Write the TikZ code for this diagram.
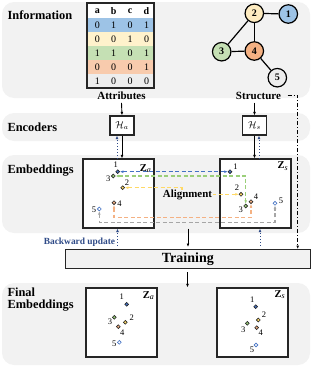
\documentclass[tikz,border=0pt]{standalone}
\usepackage{fontspec}
\setmainfont{Liberation Serif}
\usetikzlibrary{arrows.meta}
\definecolor{panel}{HTML}{F2F2F2}
\definecolor{rowB}{HTML}{9DC3E6}
\definecolor{rowY}{HTML}{FFF2CC}
\definecolor{rowG}{HTML}{C5E0B4}
\definecolor{rowO}{HTML}{F8CBAD}
\definecolor{rowN}{HTML}{EDEDED}
\definecolor{nodeO}{HTML}{F4B183}
\definecolor{nodeY}{HTML}{FDEBC0}
\definecolor{lnB}{HTML}{4472C4}
\definecolor{lnG}{HTML}{9BCF7A}
\definecolor{lnY}{HTML}{FFD966}
\definecolor{lnO}{HTML}{F4B183}
\definecolor{lnN}{HTML}{A6A6A6}
\definecolor{bk}{HTML}{2E4A87}
\definecolor{dk}{HTML}{262626}
\tikzset{
  panelbox/.style={fill=panel, draw=none, rounded corners=12pt},
  sec/.style={font=\fontsize{12.4}{13}\selectfont\bfseries, anchor=west, align=left},
  sub/.style={font=\fontsize{11}{12}\selectfont\bfseries},
  gnode/.style={circle, draw=black, line width=1.2pt, minimum size=18.5pt, inner sep=0pt, font=\fontsize{10}{10}\selectfont\bfseries},
  encbox/.style={draw=dk, line width=1.2pt, fill=white, minimum width=24pt, minimum height=19pt, inner sep=0pt},
  embbox/.style={draw=dk, line width=1.2pt, fill=white, minimum width=71pt, minimum height=69pt, inner sep=0pt},
  pt/.style={circle, draw=dk, line width=0.6pt, minimum size=3.8pt, inner sep=0pt},
  plab/.style={font=\fontsize{8.5}{9}\selectfont, inner sep=0pt},
  zlab/.style={font=\fontsize{10.5}{11}\selectfont, inner sep=0pt},
  arr/.style={-{Latex[length=3.5pt,width=2.8pt]}, line width=0.9pt, black},
  back/.style={-{Latex[length=3.5pt,width=2.8pt]}, line width=0.9pt, bk, dotted},
  algn/.style={{Latex[length=3.5pt,width=2.8pt]}-{Latex[length=3.5pt,width=2.8pt]}, line width=1.1pt, dash pattern=on 4pt off 2.5pt},
  cell/.style={font=\fontsize{10}{10}\selectfont, inner sep=0pt},
}
\begin{document}
\begin{tikzpicture}[x=1pt,y=-1pt]
\useasboundingbox (0,0) rectangle (312,367);
% panels
\fill[panelbox] (2,2) rectangle (310,98);
\fill[panelbox] (2,113) rectangle (310,141);
\fill[panelbox] (2,155) rectangle (310,233);
\fill[panelbox] (2,283) rectangle (310,365);

% section labels
\node[sec] (lInfo) at (4,15) {Information};
\node[sec] (lEnc) at (4,127) {Encoders};
\node[sec] (lEmb) at (4,171) {Embeddings};
\node[sec] (lFin) at (4,300) {Final\\[-1pt]Embeddings};

% attribute table
\fill[white] (87,3) rectangle (154,18);
\fill[rowB] (87,18) rectangle (154,32);
\fill[rowY] (87,32) rectangle (154,46);
\fill[rowG] (87,46) rectangle (154,60);
\fill[rowO] (87,60) rectangle (154,74);
\fill[rowN] (87,74) rectangle (154,88);
\draw[dk, line width=1.2pt] (87,3) rectangle (154,88);
\foreach \x/\c in {97.3/a,113.7/b,130/c,146.5/d}{
  \node[cell, font=\fontsize{10}{10}\selectfont\bfseries] at (\x,11) {\c};
}
\foreach \r/\y/\vals in {1/25/{0,1,0,1},2/39/{0,0,1,0},3/53/{1,1,0,1},4/67/{0,0,0,1},5/81/{1,0,0,0}}{
  \foreach \v [count=\i] in \vals {
    \node[cell] at ({97.3+16.4*(\i-1)},\y) {\v};
  }
}
\node[sub] (attr) at (121.5,95.5) {Attributes};

% graph
\node[gnode, fill=rowB] (g1) at (288.3,14) {1};
\node[gnode, fill=nodeY] (g2) at (254.3,13.3) {2};
\node[gnode, fill=rowG] (g3) at (221.7,51.7) {3};
\node[gnode, fill=nodeO] (g4) at (254.3,51) {4};
\node[gnode, fill=rowN] (g5) at (277.3,77.7) {5};
\draw[line width=1.2pt] (g2) -- (g1);
\draw[line width=1.2pt] (g2) -- (g3);
\draw[line width=1.2pt] (g2) -- (g4);
\draw[line width=1.2pt] (g3) -- (g4);
\draw[line width=1.2pt] (g4) -- (g5);
\node[sub] (struct) at (258.5,95.5) {Structure};

% encoders
\node[encbox] (Ha) at (122,125.5) {$\mathcal{H}_a$};
\node[encbox] (Hs) at (254.5,125.5) {$\mathcal{H}_s$};
\draw[arr] (attr.south) -- (Ha.north);
\draw[arr] (struct.south -| Hs.north) -- (Hs.north);

% embedding boxes
\node[embbox] (Za) at (118.5,193.5) {};
\node[embbox] (Zs) at (255.5,193.5) {};
\node[zlab, anchor=north east] (zaL) at (151,164) {\textbf{Z}\raisebox{-0.3ex}{\fontsize{8}{8}\selectfont\textit{a}}};
\node[zlab, anchor=north east] (zsL) at (288,161.5) {\textbf{Z}\raisebox{-0.3ex}{\fontsize{8}{8}\selectfont\textit{s}}};

\draw[arr] (Ha.south) -- (Ha.south |- Za.north);
\draw[back] ([xshift=-5pt]Ha.south |- Za.north) -- ([xshift=-5pt]Ha.south);
\draw[arr] (Hs.south) -- (Hs.south |- Zs.north);
\draw[back] ([xshift=4.5pt]Hs.south |- Zs.north) -- ([xshift=4.5pt]Hs.south);

% points Za
\node[pt, fill=lnB] (a1) at (117.7,171.7) {};
\node[pt, fill=lnG] (a3) at (113.3,176) {};
\node[pt, fill=lnY] (a2) at (122.7,187.7) {};
\node[pt, fill=lnO] (a4) at (114,202.7) {};
\node[pt, draw=lnB, fill=white] (a5) at (99.3,209) {};
\node[plab] at (115.7,165) {1};
\node[plab] at (108.3,179) {3};
\node[plab] at (127,182.3) {2};
\node[plab] at (119.5,204) {4};
\node[plab] at (94,210) {5};

% points Zs
\node[pt, fill=lnB] (s1) at (230,171.7) {};
\node[pt, fill=lnY] (s2) at (241,194.3) {};
\node[pt, fill=lnG] (s3) at (245.7,206) {};
\node[pt, fill=lnO] (s4) at (251,201.7) {};
\node[pt, draw=lnB, fill=white] (s5) at (275,203.3) {};
\node[plab] at (235.5,166.7) {1};
\node[plab] at (237,188) {2};
\node[plab] at (240.7,210) {3};
\node[plab] at (256,196.7) {4};
\node[plab] at (281,201) {5};

% alignment connectors
\coordinate (ybend) at (182,187.7);
\coordinate (obot) at (180,217.3);
\coordinate (gbot) at (180,222.3);
\draw[algn, lnN] (a5) |- (gbot) -| (s5);
\draw[algn, lnO] (a4) |- (obot) -| (s4);
\draw[algn, lnG] (a3) -| (s3);
\draw[algn, lnY] (a2) -- (ybend) |- (s2);
\draw[algn, lnB] (a1) -- (s1);
\node[fill=panel, inner sep=0.5pt, font=\fontsize{10.9}{11}\selectfont\bfseries] (align) at (187.5,195.3) {Alignment};

% training
\node[draw=dk, line width=0.9pt, fill=panel, minimum width=245.7pt, minimum height=19pt, inner sep=0pt, font=\fontsize{14}{14}\selectfont\bfseries] (train) at (187.85,258.8) {Training};
\node[font=\fontsize{9.4}{10}\selectfont\bfseries, text=bk, inner sep=0pt] (bwd) at (79.5,242) {Backward update};
\coordinate (bA) at (117.5,245.5);
\coordinate (bS) at (260,245.5);
\coordinate (tA) at (188,247);
\coordinate (ddend) at (297.7,249);
\draw[back] (bA) -- (bA |- Za.south);
\draw[back] (bS) -- (bS |- Zs.south);
\draw[arr] (tA |- Za.south) -- (tA);
\draw[-{Latex[length=3.5pt,width=2.8pt]}, line width=0.9pt, dash pattern=on 4pt off 2pt on 1pt off 2pt] ([xshift=3pt]struct.east) -| (ddend);

% final embeddings
\node[embbox] (Fa) at (121.5,322.5) {};
\node[embbox] (Fs) at (252.5,322.5) {};
\coordinate (fA) at (187.5,272);
\draw[arr] (fA) -- (fA |- Fa.north);
\node[zlab, anchor=north east] (faL) at (154,291) {\textbf{Z}\raisebox{-0.3ex}{\fontsize{8}{8}\selectfont\textit{a}}};
\node[zlab, anchor=north east] (fsL) at (285,290) {\textbf{Z}\raisebox{-0.3ex}{\fontsize{8}{8}\selectfont\textit{s}}};

\node[pt, fill=lnB] (fa1) at (126.7,304.3) {};
\node[pt, fill=lnG] (fa3) at (114.3,317.3) {};
\node[pt, fill=lnY] (fa2) at (125.3,322.3) {};
\node[pt, fill=lnO] (fa4) at (118.3,326.7) {};
\node[pt, draw=lnB, fill=white] (fa5) at (119.3,342.3) {};
\node[plab] at (121.7,297) {1};
\node[plab] at (110,321.7) {3};
\node[plab] at (131.7,317.3) {2};
\node[plab] at (122.3,332.7) {4};
\node[plab] at (114.3,343.3) {5};

\node[pt, fill=lnB] (fs1) at (255.7,306.7) {};
\node[pt, fill=lnY] (fs2) at (258.3,320) {};
\node[pt, fill=lnG] (fs3) at (247.3,323.3) {};
\node[pt, fill=lnO] (fs4) at (256.7,327.7) {};
\node[pt, draw=lnB, fill=white] (fs5) at (256,345) {};
\node[plab] at (252.3,299.5) {1};
\node[plab] at (264,315) {2};
\node[plab] at (243.3,330) {3};
\node[plab] at (260.7,332.7) {4};
\node[plab] at (252,349.3) {5};
\end{tikzpicture}
\end{document}
